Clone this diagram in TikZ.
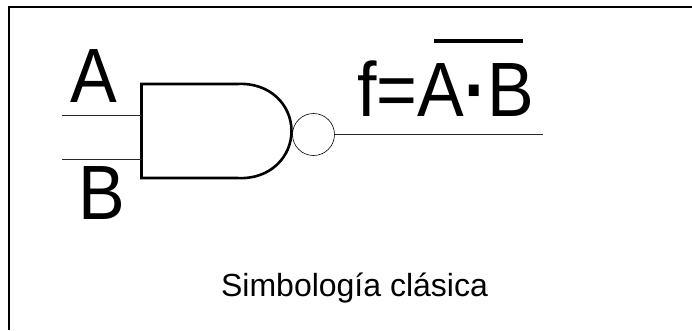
\documentclass[tikz,border=0pt]{standalone}
\usepackage{fontspec}
\setmainfont{Liberation Sans}
\usepackage{tikz}
\usetikzlibrary{positioning}

\begin{document}
\begin{tikzpicture}[x=1pt,y=-1pt,
	wire/.style={draw,line width=0.7pt,black!85},
	bigtext/.style={font=\fontsize{70}{70}\selectfont,inner sep=0pt,anchor=base,yscale=1.1}]
	\useasboundingbox (0,0) rectangle (692,330);
	\coordinate (lowleft) at (9,330);
	\coordinate (corner) at (9,7.3);
	\coordinate (upright) at (692,7.3);
	\draw[line width=2.2pt] (lowleft) -- (corner) -- (upright);
	\coordinate (ain) at (62,115.5);
	\coordinate (bin) at (62,159);
	\coordinate (a) at (142,115.5);
	\coordinate (b) at (142,159);
	\coordinate (fout) at (543,134.5);
	\path (313.5,134.5) node (bubble) [shape=circle,draw,line width=0.6pt,minimum size=42pt,inner sep=0pt] {};
	\path (94,102) node (alabel) [bigtext] {A}
		  (102,219) node (blabel) [bigtext] {B}
		  (446,116) node (flabel) [bigtext] {f=A\textbf{·}B}
		  (354.5,296.5) node (caption) [font=\fontsize{32}{34}\selectfont,inner sep=0pt,anchor=base] {Simbología clásica};
	\draw[line width=2.6pt] (141.5,84) -- (141.5,178) -- (237,178) -- (237,178)
		.. controls (270,180) and (291.5,157) .. (291.5,131)
		.. controls (291.5,105) and (270,82) .. (237,84) -- cycle;
	\draw[wire] (ain) -- (a);
	\draw[wire] (bin) -- (b);
	\draw[wire] (bubble.east) -- (fout);
	\draw[line width=3.2pt] (434,41) -- (523,41);
\end{tikzpicture}
\end{document}
